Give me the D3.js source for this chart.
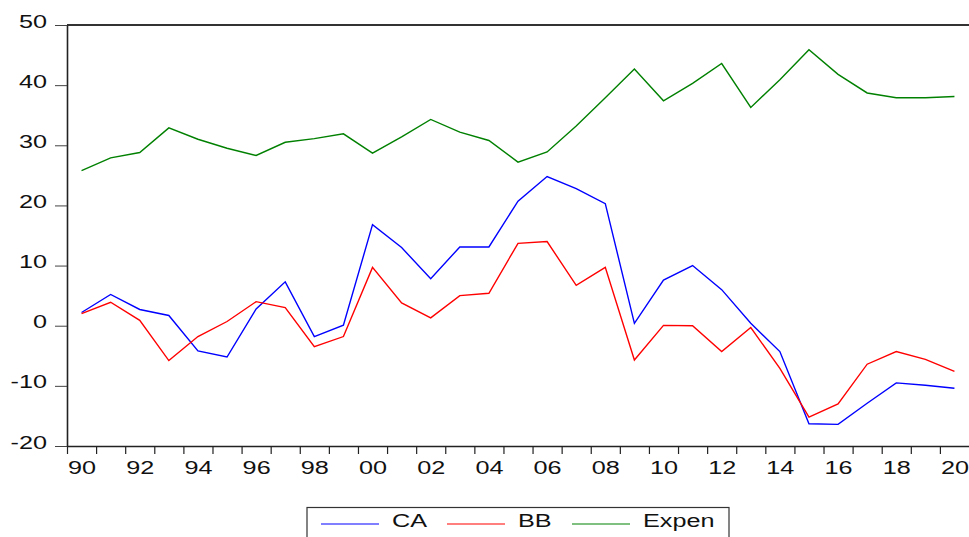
<!DOCTYPE html>
<html>
<head>
<meta charset="utf-8">
<script src="https://cdn.jsdelivr.net/npm/d3@7"></script>
<style>
  body { margin: 0; background: #fff; }
  svg text { font-family: "Liberation Sans", Arial, sans-serif; fill: #111; }
</style>
</head>
<body>
<svg id="chart" width="969" height="537"></svg>
<script>
// years 1990..2020
const years = d3.range(1990, 2021);

const ca = [2.2, 5.2, 2.7, 1.7, -4.2, -5.2, 2.8, 7.3, -1.8, 0.1,
            16.8, 13.0, 7.8, 13.1, 13.1, 20.7, 24.8, 22.8, 20.3, 0.4,
            7.6, 10.0, 6.0, 0.4, -4.3, -16.3, -16.4, -12.9, -9.5, -9.9, -10.4];

const bb = [2.0, 3.9, 0.9, -5.8, -1.8, 0.7, 4.0, 3.0, -3.5, -1.8,
            9.7, 3.8, 1.3, 5.0, 5.4, 13.7, 14.0, 6.7, 9.7, -5.7,
            0.05, 0.0, -4.3, -0.3, -7.1, -15.2, -13.0, -6.4, -4.3, -5.6, -7.6];

const expen = [25.8, 27.9, 28.8, 32.9, 31.0, 29.5, 28.3, 30.5, 31.1, 31.9,
               28.7, 31.4, 34.3, 32.2, 30.8, 27.2, 28.9, 33.2, 37.9, 42.7,
               37.4, 40.3, 43.6, 36.3, 40.9, 45.9, 41.8, 38.7, 37.9, 37.9, 38.1];

const yTicks = [-20, -10, 0, 10, 20, 30, 40, 50];
const xLabelYears = d3.range(1990, 2021, 2);

const seriesList = [
    {name: "CA", values: ca, color: "#0000ff"},
    {name: "BB", values: bb, color: "#ff0000"},
    {name: "Expen", values: expen, color: "#008000"}
];

const plotLeft = 67, plotRight = 969, plotTop = 25, plotBottom = 446;
const stretch = 1.4; // text in the original is drawn wide

const svg = d3.select("#chart");

const x = d3.scaleLinear().domain([1989.5, 2020.5]).range([plotLeft, plotRight]);
const y = d3.scaleLinear().domain([-20, 50]).range([plotBottom, plotTop]);

function widen(sel) {
    sel.each(function() {
        const w = this.getComputedTextLength();
        d3.select(this)
            .attr("textLength", w * stretch)
            .attr("lengthAdjust", "spacingAndGlyphs");
    });
}

// top frame line
svg.append("line")
    .attr("x1", plotLeft).attr("x2", plotRight)
    .attr("y1", plotTop).attr("y2", plotTop)
    .attr("stroke", "#333").attr("stroke-width", 2);

// y axis (plain hyphen for negatives, like the original)
const yAxis = svg.append("g")
    .attr("transform", "translate(" + plotLeft + ",0)")
    .call(d3.axisLeft(y).tickValues(yTicks).tickFormat(d => String(d))
        .tickSize(12).tickSizeOuter(0).tickPadding(8));
yAxis.select(".domain").attr("stroke", "#222").attr("stroke-width", 1.6);
yAxis.selectAll(".tick line").attr("stroke", "#444").attr("stroke-width", 1);
yAxis.selectAll("text")
    .attr("dy", 2)
    .style("font-size", "18px")
    .call(widen);

// x axis: ticks on year boundaries
const boundaries = d3.range(1989.5, 2020.5, 1);
const xAxis = svg.append("g")
    .attr("transform", "translate(0," + plotBottom + ")")
    .call(d3.axisBottom(x).tickValues(boundaries).tickFormat("").tickSize(8).tickSizeOuter(0));
xAxis.select(".domain").attr("stroke", "#222").attr("stroke-width", 1.6);
xAxis.selectAll(".tick line").attr("stroke", "#222").attr("stroke-width", 1.2);

// x labels centred on even years
const xLab = svg.append("g")
    .attr("transform", "translate(0," + plotBottom + ")")
    .call(d3.axisBottom(x).tickValues(xLabelYears)
        .tickFormat(d => String(d % 100).padStart(2, "0"))
        .tickSize(0).tickPadding(15));
xLab.select(".domain").remove();
xLab.selectAll("text")
    .attr("dy", "0.71em")
    .style("font-size", "18px")
    .call(widen);

// series lines
const line = d3.line()
    .x((d, i) => x(years[i]))
    .y(d => y(d));

svg.append("g").selectAll("path")
    .data(seriesList)
    .join("path")
    .attr("d", d => line(d.values))
    .attr("fill", "none")
    .attr("stroke", d => d.color)
    .attr("stroke-width", 1.4)
    .attr("stroke-linejoin", "miter");

// legend
const legend = svg.append("g").attr("class", "legend");
legend.append("rect")
    .attr("x", 307).attr("y", 507.5)
    .attr("width", 422).attr("height", 40)
    .attr("fill", "none").attr("stroke", "#333").attr("stroke-width", 1.2);

const legendX = [321, 447, 572];
const items = legend.selectAll("g.item")
    .data(seriesList)
    .join("g")
    .attr("class", "item")
    .attr("transform", (d, i) => "translate(" + legendX[i] + ",524)");
items.append("line")
    .attr("x1", 0).attr("x2", 58)
    .attr("stroke", d => d.color).attr("stroke-width", 1.2);
items.append("text")
    .attr("x", 71).attr("y", 3)
    .style("font-size", "18px")
    .text(d => d.name)
    .call(widen);
</script>
</body>
</html>
